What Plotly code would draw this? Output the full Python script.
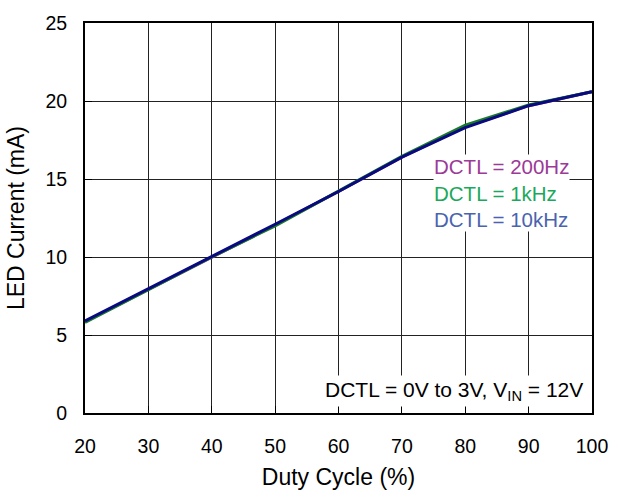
import plotly.graph_objects as go

duty = [20, 30, 40, 50, 60, 70, 80, 90, 100]
i_200hz = [5.85, 7.9, 10.0, 12.05, 14.2, 16.4, 18.35, 19.7, 20.6]
i_1khz = [5.8, 7.9, 10.0, 12.0, 14.2, 16.45, 18.45, 19.75, 20.6]
i_10khz = [5.9, 7.95, 10.05, 12.1, 14.2, 16.4, 18.3, 19.7, 20.6]

series = [
    ("DCTL = 200Hz", i_200hz, "#9B3A97"),
    ("DCTL = 1kHz", i_1khz, "#1A7A2A"),
    ("DCTL = 10kHz", i_10khz, "#0A0A80"),
]
legend_colors = ["#9B3A97", "#1BA85A", "#4A63B0"]

FONT = "Liberation Sans, Arial, sans-serif"

fig = go.Figure()
for name, ys, col in series:
    fig.add_trace(go.Scatter(x=duty, y=ys, mode="lines", name=name,
                             line=dict(color=col, width=3), showlegend=False))

legend_text = "<br>".join(
    f'<span style="color:{c}">{n}</span>' for (n, _, _), c in zip(series, legend_colors)
)
fig.add_annotation(x=74.9, y=14.1, xref="x", yref="y", text=legend_text, showarrow=False,
                   xanchor="left", yanchor="middle", align="left",
                   font=dict(family=FONT, size=20.5), bgcolor="white", borderpad=0)
fig.add_annotation(x=99.0, y=1.4, xref="x", yref="y",
                   text="DCTL = 0V to 3V, V<sub>IN</sub> = 12V", showarrow=False,
                   xanchor="right", yanchor="middle",
                   font=dict(family=FONT, size=21, color="black"), bgcolor="white", borderpad=2)

fig.update_layout(
    width=620, height=498,
    margin=dict(l=85, r=20, t=17, b=81),
    plot_bgcolor="white", paper_bgcolor="white",
    font=dict(family=FONT, size=20, color="black"),
)
fig.update_xaxes(range=[20, 100], dtick=10, showgrid=True, gridcolor="#222222", gridwidth=1,
                 showline=True, linecolor="black", linewidth=2, mirror=True,
                 ticks="inside", ticklen=7, tickcolor="black", zeroline=False,
                 title=dict(text="Duty Cycle (%)", standoff=12, font=dict(size=23)),
                 tickfont=dict(size=19.5), ticklabelstandoff=15)
fig.update_yaxes(range=[0, 25], dtick=5, showgrid=True, gridcolor="#222222", gridwidth=1,
                 showline=True, linecolor="black", linewidth=2, mirror=True,
                 ticks="inside", ticklen=7, tickcolor="black", zeroline=False,
                 title=dict(text="LED Current (mA)", standoff=14, font=dict(size=23)),
                 tickfont=dict(size=19.5), ticklabelstandoff=12)

fig.write_html("out.html", config={"displayModeBar": False},
               post_script="document.body.style.margin='0';")
